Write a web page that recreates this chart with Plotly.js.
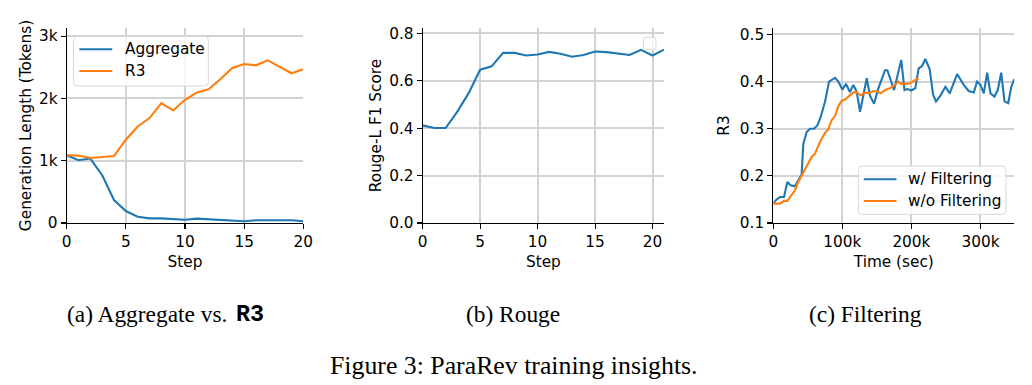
<!DOCTYPE html>
<html>
<head>
<meta charset="utf-8">
<script src="https://cdn.plot.ly/plotly-3.0.1.min.js"></script>
<style>html,body{margin:0;padding:0;background:#fff;}#chart{width:1032px;height:385px;}</style>
</head>
<body>
<div id="chart"></div>
<script>
// ---- Panel (a): Aggregate vs. R3 ----
const stepsA = [0,1,2,3,4,5,6,7,8,9,10,11,12,13,14,15,16,17,18,19,20];
const aggregateLen = [1087,1007,1034,767,368,192,101,75,75,70,53,70,59,48,48,27,43,43,43,43,27];
const r3Len = [1087,1082,1044,1055,1076,1337,1550,1684,1923,1806,1977,2094,2147,2312,2488,2552,2531,2611,2509,2403,2467];
const yTickValsA = [0,1000,2000,3000];
const yTickTextA = ['0','1k','2k','3k'];
const legendA = ['Aggregate','R3'];

// ---- Panel (b): Rouge ----
const stepsB = [0,1,2,3,4,5,6,7,8,9,10,11,12,13,14,15,16,17,18,19,20,21];
const rougeL = [0.412,0.401,0.401,0.469,0.548,0.647,0.661,0.718,0.718,0.707,0.711,0.722,0.714,0.702,0.709,0.724,0.721,0.715,0.709,0.731,0.707,0.732];
const yTickValsB = [0,0.2,0.4,0.6,0.8];
const yTickTextB = ['0.0','0.2','0.4','0.6','0.8'];

// ---- Panel (c): Filtering ----
const timeWith = [0,4800,9700,15500,20300,25100,31400,36200,41000,43500,48300,53100,58900,63800,68600,74900,80700,89400,94200,100000,105300,111000,116000,120800,125600,135300,140000,145900,152000,161800,165200,174900,185300,190000,194500,199900,205700,210500,215400,220200,226500,231400,235700,242000,249200,255500,266200,275800,283000,290300,295200,300000,304800,309700,314500,320300,325100,330000,334800,340200,344500,349000];
const r3With = [0.142,0.150,0.155,0.155,0.187,0.180,0.178,0.190,0.203,0.268,0.293,0.300,0.300,0.307,0.325,0.357,0.400,0.408,0.400,0.383,0.395,0.378,0.393,0.378,0.336,0.407,0.370,0.353,0.385,0.424,0.424,0.382,0.446,0.382,0.384,0.381,0.386,0.428,0.433,0.448,0.426,0.372,0.358,0.370,0.389,0.375,0.416,0.393,0.380,0.377,0.400,0.393,0.375,0.419,0.375,0.368,0.382,0.419,0.358,0.354,0.388,0.405];
const timeWithout = [0,9700,15500,20300,25100,31400,36200,43500,49300,55600,60400,67600,74900,79700,84500,89400,94200,99000,103900,109700,116000,120800,126600,132900,138600,144900,150700,155600,161800,169100,176300,181200,185300,194500,200000,205700,210500];
const r3Without = [0.141,0.141,0.147,0.147,0.157,0.169,0.187,0.208,0.222,0.240,0.247,0.272,0.291,0.299,0.318,0.327,0.348,0.359,0.362,0.369,0.377,0.377,0.371,0.376,0.376,0.380,0.379,0.375,0.382,0.386,0.393,0.400,0.395,0.395,0.398,0.404,0.406];
const xTickValsC = [0,100000,200000,300000];
const xTickTextC = ['0','100k','200k','300k'];
const legendC = ['w/ Filtering','w/o Filtering'];

const BLUE = '#1f77b4', ORANGE = '#ff7f0e';
const W = 1032, H = 385;
const font = 'DejaVu Sans, sans-serif';
const serif = 'Liberation Serif, Times New Roman, serif';
const FS = 15.3;

const traces = [
  {x: stepsA, y: aggregateLen, name: legendA[0], mode: 'lines', line: {color: BLUE, width: 2.1}, xaxis: 'x', yaxis: 'y'},
  {x: stepsA, y: r3Len, name: legendA[1], mode: 'lines', line: {color: ORANGE, width: 2.1}, xaxis: 'x', yaxis: 'y'},
  {x: stepsB, y: rougeL, name: 'Rouge-L', mode: 'lines', line: {color: BLUE, width: 2.1}, xaxis: 'x2', yaxis: 'y2'},
  {x: timeWith, y: r3With, name: legendC[0], mode: 'lines', line: {color: BLUE, width: 2.1}, xaxis: 'x3', yaxis: 'y3'},
  {x: timeWithout, y: r3Without, name: legendC[1], mode: 'lines', line: {color: ORANGE, width: 2.1}, xaxis: 'x3', yaxis: 'y3'}
];

function axisBase(titleText, standoff) {
  return {
    showline: true, linecolor: '#000', linewidth: 1.1,
    ticks: 'outside', ticklen: 5, tickwidth: 1.1, tickcolor: '#000',
    showgrid: true, gridcolor: '#d2d2d2', gridwidth: 2,
    zeroline: false, automargin: false,
    tickfont: {family: font, size: FS, color: '#000'},
    title: {text: titleText, standoff: standoff, font: {family: font, size: FS, color: '#000'}}
  };
}
const yDom = [1 - 223 / H, 1 - 28 / H];

// helpers: pixel -> paper
const px = v => v / W;
const py = v => 1 - v / H;
function roundRect(x0, y0, x1, y1, r) {
  const X = v => px(v).toFixed(5), Y = v => py(v).toFixed(5);
  return 'M' + X(x0 + r) + ',' + Y(y0) + ' L' + X(x1 - r) + ',' + Y(y0) +
    ' Q' + X(x1) + ',' + Y(y0) + ' ' + X(x1) + ',' + Y(y0 + r) +
    ' L' + X(x1) + ',' + Y(y1 - r) +
    ' Q' + X(x1) + ',' + Y(y1) + ' ' + X(x1 - r) + ',' + Y(y1) +
    ' L' + X(x0 + r) + ',' + Y(y1) +
    ' Q' + X(x0) + ',' + Y(y1) + ' ' + X(x0) + ',' + Y(y1 - r) +
    ' L' + X(x0) + ',' + Y(y0 + r) +
    ' Q' + X(x0) + ',' + Y(y0) + ' ' + X(x0 + r) + ',' + Y(y0) + ' Z';
}
const boxStyle = {line: {color: '#d9d9d9', width: 1}, fillcolor: 'rgba(255,255,255,0.8)', layer: 'above'};
function legendShapes(box, rows, colors, sx0, sx1) {
  const s = [Object.assign({type: 'path', xref: 'paper', yref: 'paper', path: roundRect(box[0], box[1], box[2], box[3], 3.5)}, boxStyle)];
  rows.forEach((ry, i) => s.push({type: 'line', xref: 'paper', yref: 'paper', x0: px(sx0), x1: px(sx1), y0: py(ry), y1: py(ry),
    line: {color: colors[i], width: 2.1}, layer: 'above'}));
  return s;
}
function legendTexts(names, tx, rows) {
  return names.map((n, i) => ({text: n, xref: 'paper', yref: 'paper', x: px(tx), y: py(rows[i]), xanchor: 'left', yanchor: 'middle',
    showarrow: false, font: {family: font, size: FS, color: '#000'}}));
}

const rowsA = [49.2, 71.0], rowsC = [179.3, 201.0];
const shapes = [].concat(
  legendShapes([73.5, 36.5, 208.3, 86], rowsA, [BLUE, ORANGE], 79.3, 112.3),
  [Object.assign({type: 'path', xref: 'paper', yref: 'paper', path: roundRect(643.3, 37.3, 656, 49.3, 2.5)}, boxStyle)],
  legendShapes([858.3, 166, 1006, 214.3], rowsC, [BLUE, ORANGE], 863.8, 896.5)
);

const capFont = {family: serif, size: 23.4, color: '#000'};
const annotations = [].concat(
  legendTexts(legendA, 122.8, rowsA),
  legendTexts(legendC, 906, rowsC),
  [
    {text: '(a) Aggregate vs.', xref: 'paper', yref: 'paper', x: px(65), y: py(314), xanchor: 'left', yanchor: 'middle', showarrow: false, font: capFont},
    {text: 'R3', xref: 'paper', yref: 'paper', x: px(234), y: py(314.5), xanchor: 'left', yanchor: 'middle', showarrow: false,
     font: {family: 'Liberation Mono, Courier New, monospace', size: 23.4, color: '#000', weight: 'bold'}},
    {text: '(b) Rouge', xref: 'paper', yref: 'paper', x: px(513.3), y: py(314), xanchor: 'center', yanchor: 'middle', showarrow: false, font: capFont},
    {text: '(c) Filtering', xref: 'paper', yref: 'paper', x: px(865), y: py(314), xanchor: 'center', yanchor: 'middle', showarrow: false, font: capFont},
    {text: 'Figure 3: ParaRev training insights.', xref: 'paper', yref: 'paper', x: px(514), y: py(365), xanchor: 'center', yanchor: 'middle',
     showarrow: false, font: {family: serif, size: 25.8, color: '#000'}}
  ]
);

const layout = {
  width: W, height: H,
  margin: {l: 0, r: 0, t: 0, b: 0},
  paper_bgcolor: '#fff', plot_bgcolor: '#fff',
  showlegend: false,
  font: {family: font, color: '#000'},
  xaxis: Object.assign(axisBase('Step', 5), {domain: [px(66.7), px(303.3)], range: [0, 20], anchor: 'y', tickvals: [0,5,10,15,20]}),
  yaxis: Object.assign(axisBase('Generation Length (Tokens)', 3), {domain: yDom, range: [0, 3130], anchor: 'x', tickvals: yTickValsA, ticktext: yTickTextA}),
  xaxis2: Object.assign(axisBase('Step', 5), {domain: [px(422.7), px(664)], range: [0, 21], anchor: 'y2', tickvals: [0,5,10,15,20]}),
  yaxis2: Object.assign(axisBase('Rouge-L F1 Score', 3), {domain: yDom, range: [0, 0.823], anchor: 'x2', tickvals: yTickValsB, ticktext: yTickTextB}),
  xaxis3: Object.assign(axisBase('Time (sec)', 5), {domain: [px(773.3), px(1014.3)], range: [0, 349000], anchor: 'y3', tickvals: xTickValsC, ticktext: xTickTextC}),
  yaxis3: Object.assign(axisBase('R3', 6), {domain: yDom, range: [0.1, 0.5136], anchor: 'x3', tickvals: [0.1,0.2,0.3,0.4,0.5]}),
  shapes: shapes,
  annotations: annotations
};

Plotly.newPlot('chart', traces, layout, {staticPlot: true, displayModeBar: false});
</script>
</body>
</html>
